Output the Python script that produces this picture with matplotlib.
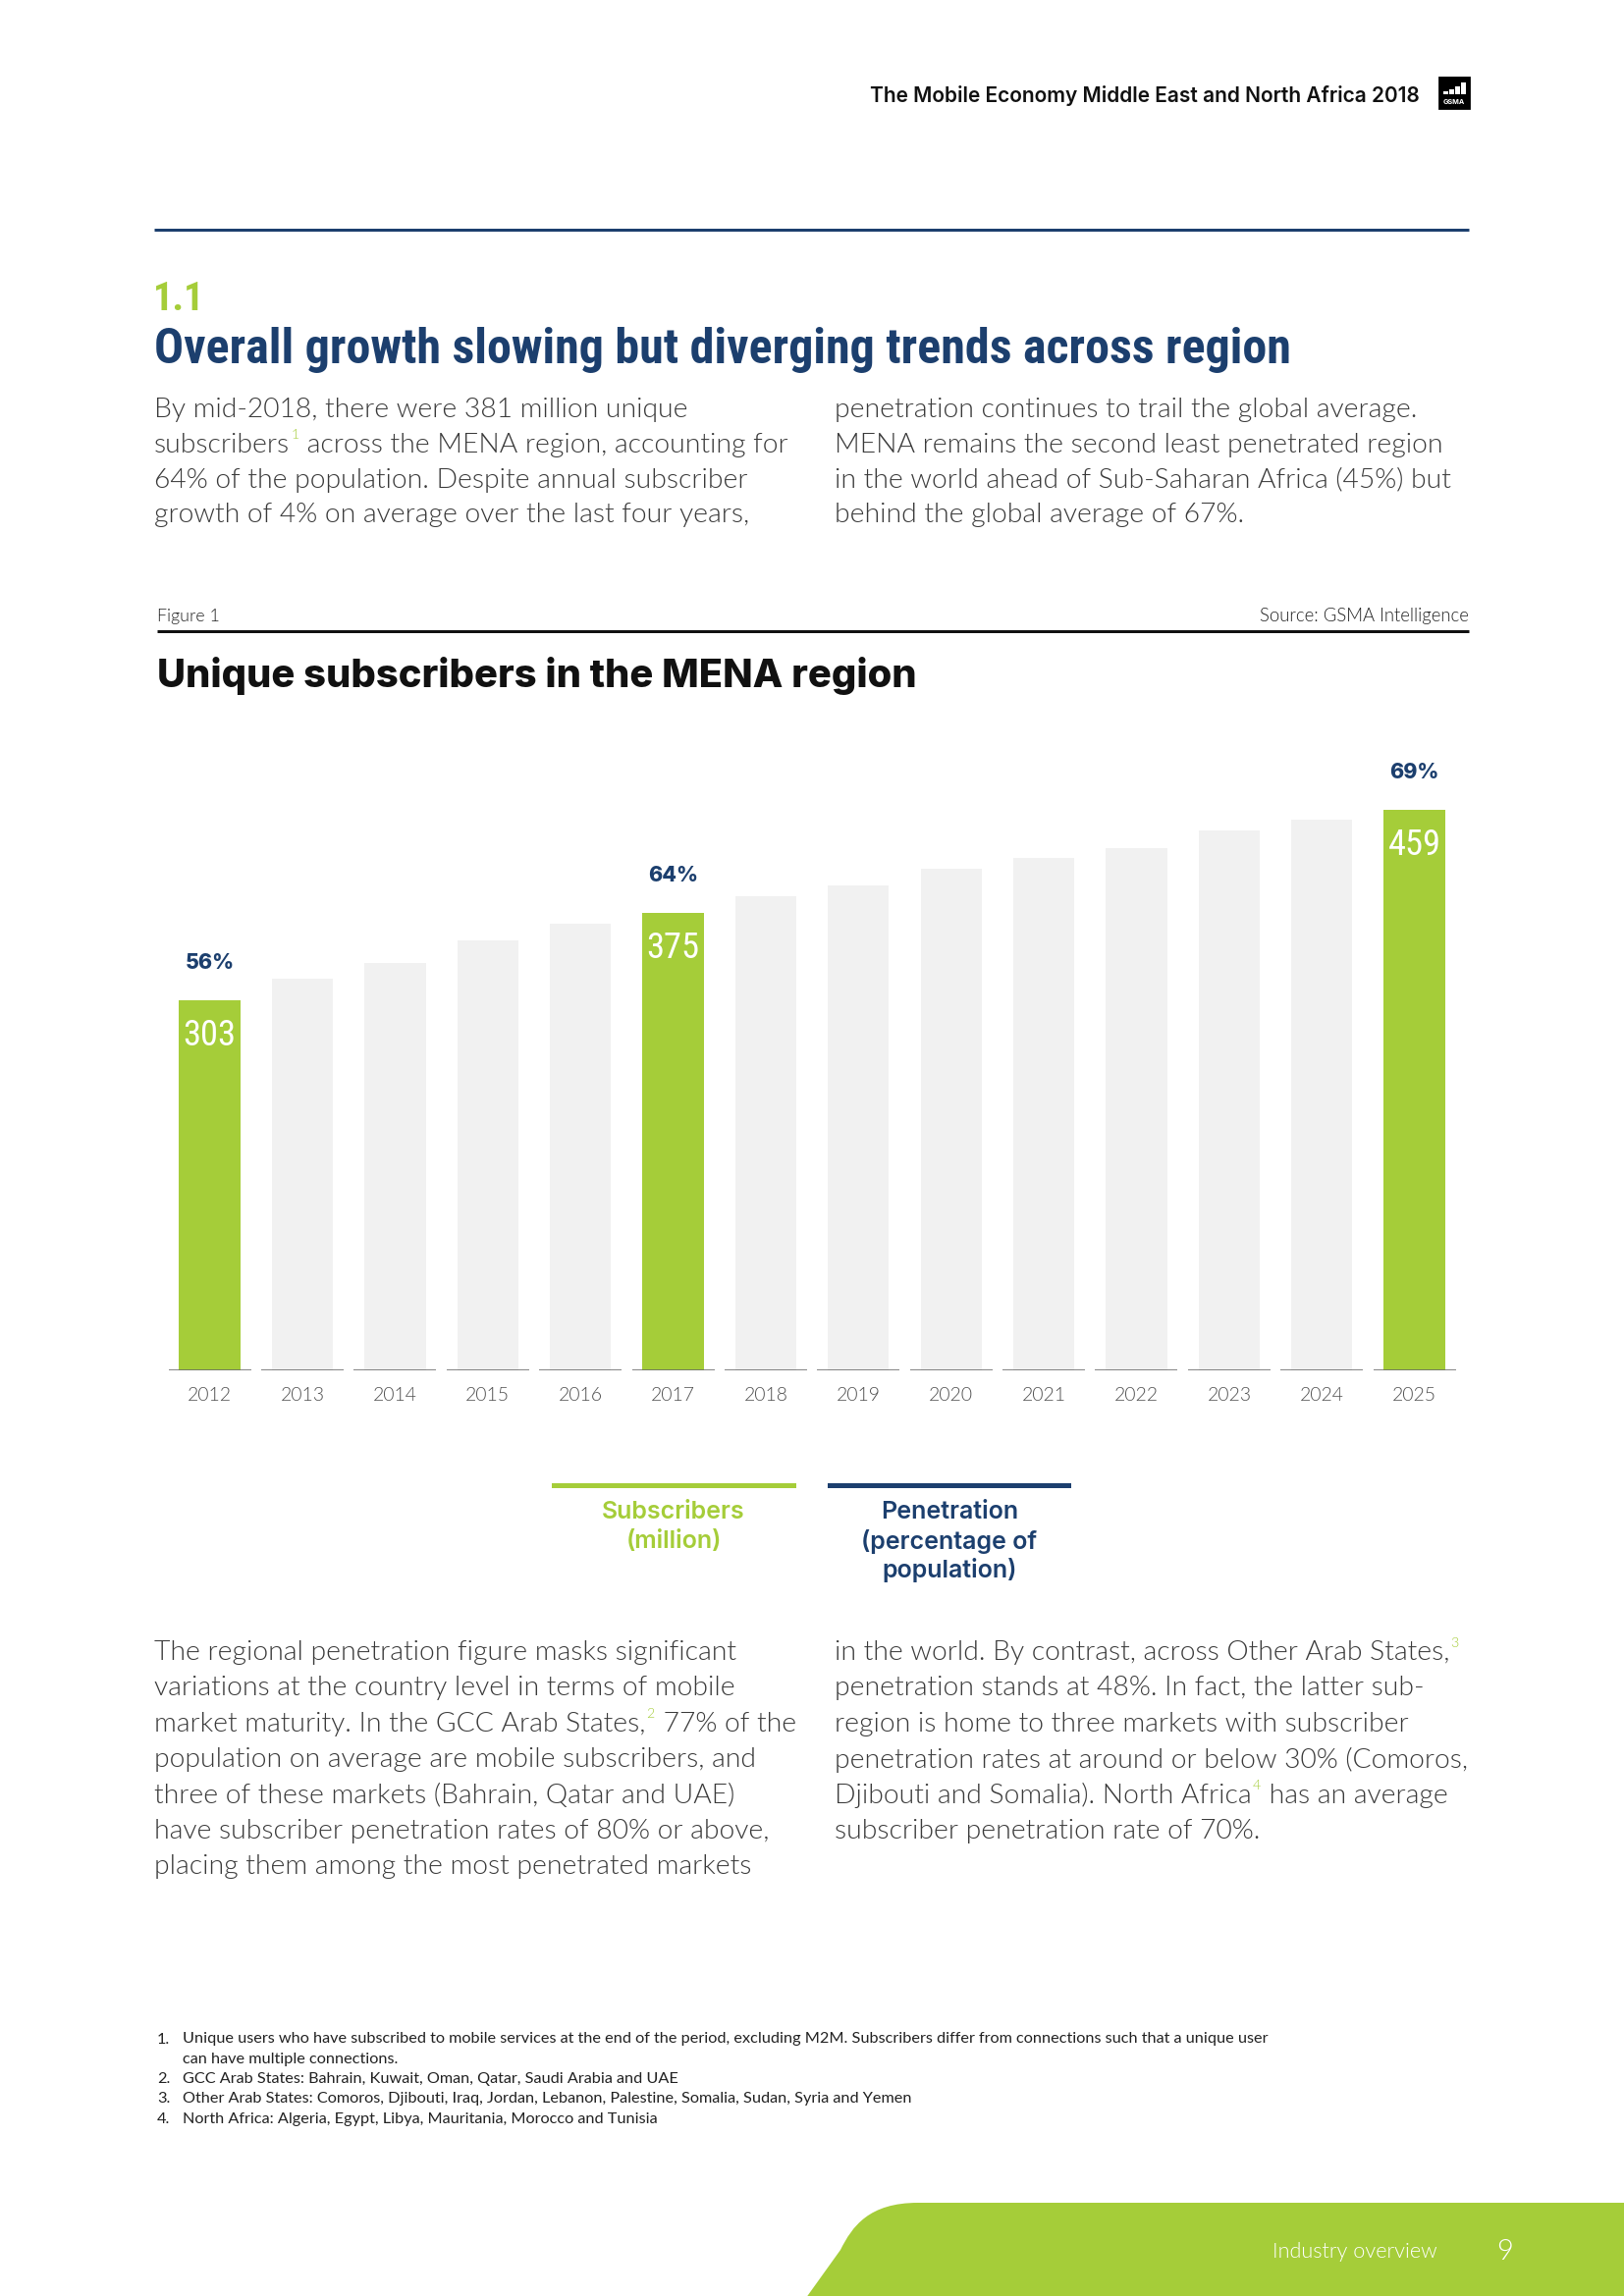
import matplotlib
matplotlib.use("Agg")
import matplotlib.pyplot as plt
from matplotlib import font_manager as fm
from matplotlib.patches import Rectangle, PathPatch
from matplotlib.path import Path
from matplotlib.lines import Line2D
import numpy as np

# ---------------- data ----------------
years = ["2012", "2013", "2014", "2015", "2016", "2017", "2018",
         "2019", "2020", "2021", "2022", "2023", "2024", "2025"]
subscribers = [303, 321, 334, 352, 366, 375, 388, 397, 411, 420, 428, 442, 451, 459]
highlight_years = ["2012", "2017", "2025"]
penetration_pct = [56, 64, 69]
legend_subscribers = ["Subscribers", "(million)"]
legend_penetration = ["Penetration", "(percentage of", "population)"]

W, H, DPI = 1654, 2339, 200
GREEN = "#a5cd39"
NAVY = "#1c3f6e"
BAR_GREY = "#f1f1f1"
BODY_C = "#3a3a3a"


def _w(w):
    if isinstance(w, str):
        return fm.weight_dict.get(w, 400)
    return int(w)


AVAILABLE = {}
for f in fm.fontManager.ttflist:
    if f.style == "normal":
        AVAILABLE.setdefault(f.name, set()).add(_w(f.weight))


def pick(cands, lo, hi, target=None):
    if target is None:
        target = (lo + hi) / 2
    for c in cands:
        ws = [w for w in AVAILABLE.get(c, set()) if lo <= w <= hi]
        if ws:
            return c, min(ws, key=lambda w: abs(w - target))
    return None


LIGHT_F = pick(["Lato", "Lato Light", "Open Sans", "Open Sans Light", "Roboto",
                "Roboto Light", "Inter", "Inter Light", "Noto Sans"], 250, 350, 300) \
    or ("DejaVu Sans", 400)
BOOK_F = pick(["Lato", "Open Sans", "Roboto", "Inter", "Noto Sans"], 380, 420) or ("DejaVu Sans", 400)
NARROW_F = pick(["Liberation Sans Narrow", "Roboto Condensed", "Open Sans Condensed",
                 "Noto Sans Condensed"], 300, 450, 400) or LIGHT_F
HEAVY_F = pick(["Liberation Sans Narrow", "Roboto Condensed"], 650, 950, 700) or \
    pick(["Roboto Black", "Roboto", "Lato Black", "Lato", "Inter", "Open Sans"], 800, 950, 900) or \
    ("DejaVu Sans", 700)
BOLD_F = pick(["Inter", "Lato", "Open Sans", "Roboto", "Noto Sans"], 650, 750, 700) or ("DejaVu Sans", 700)
XBOLD_F = pick(["Inter", "Lato", "Open Sans", "Roboto", "Noto Sans"], 650, 850, 800) or BOLD_F
MED_F = pick(["Inter", "Open Sans", "Lato", "Roboto", "Noto Sans"], 500, 650, 600) or BOLD_F

plt.rcParams["font.family"] = [LIGHT_F[0], "DejaVu Sans"]

fig = plt.figure(figsize=(W / DPI, H / DPI), dpi=DPI)
fig.patch.set_facecolor("white")
R = fig.canvas.get_renderer()
PT = 72.0 / DPI  # points per pixel


def props(font):
    return dict(family=[font[0], "DejaVu Sans"], fontweight=font[1])


def fit_size(s, target_w, font):
    t = fig.text(0, 0, s, fontsize=20, **props(font))
    w = t.get_window_extent(R).width
    t.remove()
    return 20.0 * target_w / w


def T(x, y, s, font, size=None, fit=None, va="center_baseline", **kw):
    if fit is not None:
        size = fit_size(s, fit, font)
    return fig.text(x / W, 1 - y / H, s, fontsize=size, va=va, **props(font), **kw)


def hline(x0, x1, y, color, lw_px):
    fig.add_artist(Line2D([x0 / W, x1 / W], [1 - y / H, 1 - y / H],
                          transform=fig.transFigure, color=color, lw=lw_px * PT,
                          solid_capstyle="butt"))


def runs_line(x, y, runs, font, size, color, sup_color):
    cx = x
    for s, kind in runs:
        if kind == "sup":
            t = fig.text(cx / W + 1.0 / W, 1 - (y - size / PT * 0.30) / H, s,
                         fontsize=size * 0.5, color=sup_color, va="center_baseline",
                         **props(font))
            cx += t.get_window_extent(R).width + 2
        else:
            t = fig.text(cx / W, 1 - y / H, s, fontsize=size, color=color,
                         va="center_baseline", **props(font))
            cx += t.get_window_extent(R).width


# ---------------- header ----------------
T(1446, 95, "The Mobile Economy Middle East and North Africa 2018", MED_F,
  fit=561, ha="right", color="#111111")
fig.add_artist(Rectangle((1466 / W, 1 - 110 / H), 30 / W, 31 / H,
                         transform=fig.transFigure, color="black"))
for bx, bh in zip([1470, 1476, 1482, 1488], [3, 5, 8, 12]):
    fig.add_artist(Rectangle((bx / W, 1 - 96 / H), 4.5 / W, bh / H,
                             transform=fig.transFigure, color="white", lw=0))
T(1481, 103, "GSMA", BOLD_F, size=2.6, ha="center", color="white")

hline(157, 1496, 234, NAVY, 3)

T(156, 301, "1.1", HEAVY_F, size=14.5, ha="left", color=GREEN)
T(157, 351, "Overall growth slowing but diverging trends across region", HEAVY_F,
  fit=1156, ha="left", color=NAVY)

# ---------------- body text 1 ----------------
BODY_SIZE = fit_size("subscribers across the MENA region, accounting for", 632, LIGHT_F)
left1 = [[("By mid-2018, there were 381 million unique", None)],
         [("subscribers", None), ("1", "sup"), (" across the MENA region, accounting for", None)],
         [("64% of the population. Despite annual subscriber", None)],
         [("growth of 4% on average over the last four years,", None)]]
right1 = [[("penetration continues to trail the global average.", None)],
          [("MENA remains the second least penetrated region", None)],
          [("in the world ahead of Sub-Saharan Africa (45%) but", None)],
          [("behind the global average of 67%.", None)]]
for i, ln in enumerate(left1):
    runs_line(157, 415 + i * 35.8, ln, LIGHT_F, BODY_SIZE, BODY_C, GREEN)
for i, ln in enumerate(right1):
    runs_line(850, 415 + i * 35.8, ln, LIGHT_F, BODY_SIZE, BODY_C, GREEN)

# ---------------- figure header ----------------
T(160, 626, "Figure 1", LIGHT_F, fit=64, ha="left", color="#222222")
T(1496, 626, "Source: GSMA Intelligence", LIGHT_F, fit=213, ha="right", color="#222222")
hline(160, 1496, 643, "#111111", 3)
T(160, 685, "Unique subscribers in the MENA region", XBOLD_F, fit=775, ha="left",
  color="#111111")

# ---------------- chart ----------------
x = np.arange(len(years))
px_per_unit = 1.244
ax_left, ax_right, ax_bottom, ax_top = 166.4, 1487.8, 1396.0, 700.0
ax = fig.add_axes([ax_left / W, 1 - ax_bottom / H, (ax_right - ax_left) / W,
                   (ax_bottom - ax_top) / H])
ax.patch.set_alpha(0)
colors = [GREEN if y in highlight_years else BAR_GREY for y in years]
ax.bar(x, subscribers, width=0.66, color=colors, zorder=2, linewidth=0)
ax.hlines(np.zeros(len(x)), x - 0.445, x + 0.445, colors="#6a6a6a", lw=1.6 * PT, zorder=3)
ax.set_xlim(-0.5, len(years) - 0.5)
ax.set_ylim(0, (ax_bottom - ax_top) / px_per_unit)
for s in ax.spines.values():
    s.set_visible(False)
ax.yaxis.set_visible(False)
ax.set_xticks(x)
ax.set_xticklabels(years)
YEAR_SIZE = fit_size("2012", 45, LIGHT_F)
ax.tick_params(axis="x", length=0, pad=24 * PT)
for lab in ax.get_xticklabels():
    lab.set_va("center_baseline")
    lab.set_fontsize(YEAR_SIZE)
    lab.set_family([LIGHT_F[0], "DejaVu Sans"])
    lab.set_fontweight(LIGHT_F[1])
    lab.set_color("#4f4f4f")

PCT_SIZE = fit_size("56%", 50, XBOLD_F)
VAL_SIZE = fit_size("303", 54, NARROW_F)
for yr, pct in zip(highlight_years, penetration_pct):
    i = years.index(yr)
    ax.annotate(f"{pct}%", (x[i], subscribers[i]), xytext=(0, 40 * PT),
                textcoords="offset points", ha="center", va="center_baseline",
                fontsize=PCT_SIZE, color=NAVY, **props(XBOLD_F))
    ax.annotate(str(subscribers[i]), (x[i], subscribers[i]), xytext=(0, -32 * PT),
                textcoords="offset points", ha="center", va="center_baseline",
                fontsize=VAL_SIZE, color="white", **props(NARROW_F))

# ---------------- legend ----------------
fig.add_artist(Rectangle((562 / W, 1 - 1516 / H), 249 / W, 5.5 / H,
                         transform=fig.transFigure, color=GREEN, lw=0))
fig.add_artist(Rectangle((843 / W, 1 - 1516 / H), 248 / W, 5.5 / H,
                         transform=fig.transFigure, color=NAVY, lw=0))
LEG_SIZE = fit_size("Subscribers", 146, MED_F)
for i, s in enumerate(legend_subscribers):
    T(686, 1538 + i * 29.7, s, MED_F, size=LEG_SIZE, ha="center", color=GREEN)
for i, s in enumerate(legend_penetration):
    T(967, 1538 + i * 29.7, s, MED_F, size=LEG_SIZE, ha="center", color=NAVY)

# ---------------- body text 2 ----------------
left2 = [[("The regional penetration figure masks significant", None)],
         [("variations at the country level in terms of mobile", None)],
         [("market maturity. In the GCC Arab States,", None), ("2", "sup"), (" 77% of the", None)],
         [("population on average are mobile subscribers, and", None)],
         [("three of these markets (Bahrain, Qatar and UAE)", None)],
         [("have subscriber penetration rates of 80% or above,", None)],
         [("placing them among the most penetrated markets", None)]]
right2 = [[("in the world. By contrast, across Other Arab States,", None), ("3", "sup")],
          [("penetration stands at 48%. In fact, the latter sub-", None)],
          [("region is home to three markets with subscriber", None)],
          [("penetration rates at around or below 30% (Comoros,", None)],
          [("Djibouti and Somalia). North Africa", None), ("4", "sup"), (" has an average", None)],
          [("subscriber penetration rate of 70%.", None)]]
for i, ln in enumerate(left2):
    runs_line(157, 1681 + i * 36.4, ln, LIGHT_F, BODY_SIZE, BODY_C, GREEN)
for i, ln in enumerate(right2):
    runs_line(850, 1681 + i * 36.4, ln, LIGHT_F, BODY_SIZE, BODY_C, GREEN)

# ---------------- footnotes ----------------
fn1 = ("Unique users who have subscribed to mobile services at the end of the period, "
       "excluding M2M. Subscribers differ from connections such that a unique user")
FN_SIZE = fit_size(fn1, 1106, BOOK_F)
footnotes = [("1.", fn1), ("", "can have multiple connections."),
             ("2.", "GCC Arab States: Bahrain, Kuwait, Oman, Qatar, Saudi Arabia and UAE"),
             ("3.", "Other Arab States: Comoros, Djibouti, Iraq, Jordan, Lebanon, Palestine, "
                    "Somalia, Sudan, Syria and Yemen"),
             ("4.", "North Africa: Algeria, Egypt, Libya, Mauritania, Morocco and Tunisia")]
for i, (num, s) in enumerate(footnotes):
    yy = 2076 + i * 20.3
    if num:
        T(160, yy, num, BOOK_F, size=FN_SIZE, ha="left", color="#222222")
    T(186, yy, s, BOOK_F, size=FN_SIZE, ha="left", color="#222222")

# ---------------- footer shape ----------------
verts = [(W + 5, 2244), (935, 2244), (885, 2244), (868, 2268), (856, 2292),
         (818, 2345), (W + 5, 2345), (W + 5, 2244)]
codes = [Path.MOVETO, Path.LINETO, Path.CURVE4, Path.CURVE4, Path.CURVE4,
         Path.LINETO, Path.LINETO, Path.CLOSEPOLY]
fverts = [(vx / W, 1 - vy / H) for vx, vy in verts]
fig.add_artist(PathPatch(Path(fverts, codes), transform=fig.transFigure,
                         facecolor=GREEN, edgecolor="none"))
T(1296, 2292, "Industry overview", LIGHT_F, fit=167, ha="left", color="white")
T(1533, 2292, "9", LIGHT_F, size=10.5, ha="center", color="white")

fig.savefig("out.png", dpi=DPI, facecolor="white")
